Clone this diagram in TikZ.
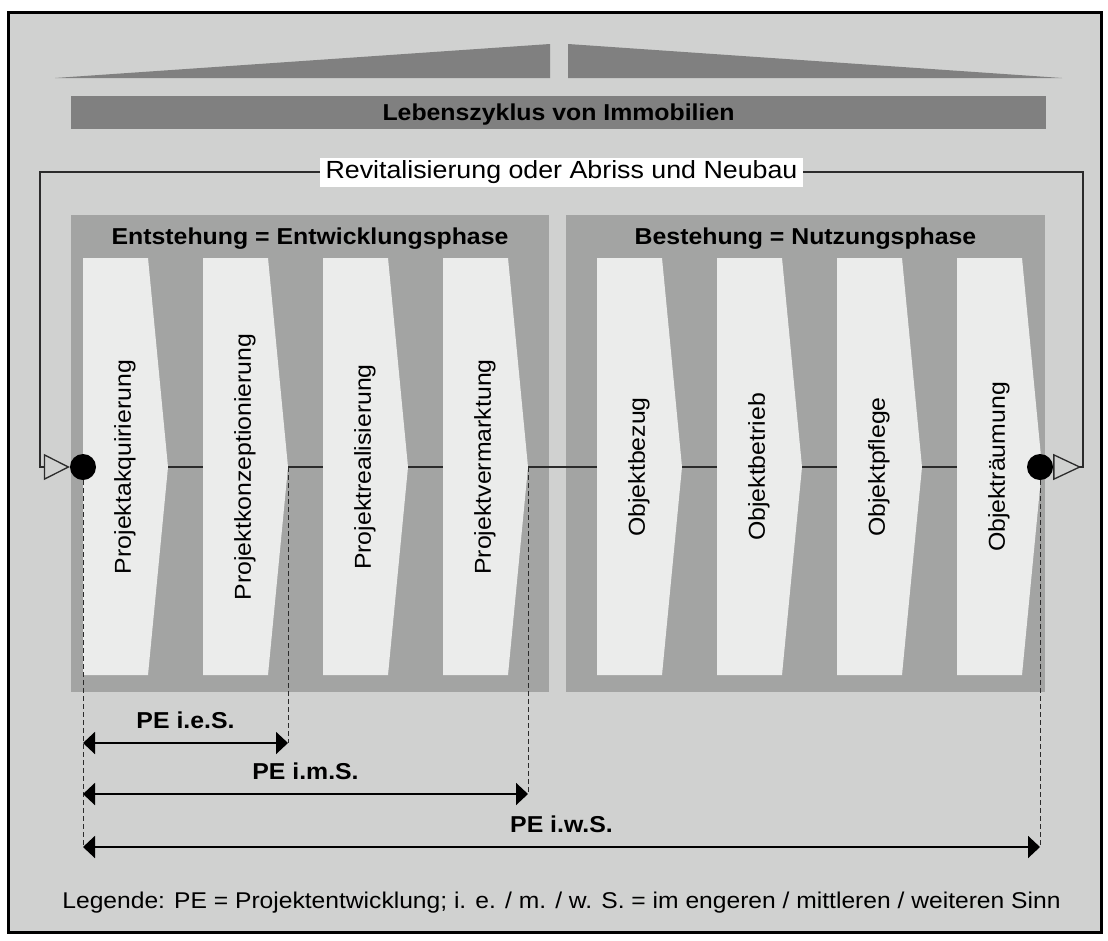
\documentclass[tikz,border=0pt]{standalone}
\usepackage{fontspec}
\setmainfont{Liberation Sans}[FakeStretch=1.08]
\usepackage{xcolor}
\definecolor{cBack}{HTML}{D0D1D0}
\definecolor{cRoof}{HTML}{808080}
\definecolor{cPhase}{HTML}{A3A4A3}
\definecolor{cChev}{HTML}{EBECEB}
\definecolor{cLine}{HTML}{2B2B2B}
\usepackage{tikz}
\usetikzlibrary{arrows.meta,calc}
\tikzset{
  txt-norm/.style={font=\fontsize{23}{27}\selectfont},
  txt-bold/.style={font=\fontsize{23}{27}\selectfont\bfseries},
  node-dot/.style={circle,fill=black,inner sep=0pt,minimum size=26pt},
  node-label/.style={txt-norm,rotate=90,inner sep=0pt},
  node-rev/.style={font=\fontsize{24.8}{28}\selectfont,fill=white,inner xsep=6pt,
    inner ysep=3.5pt,text height=17pt,text depth=5pt},
  arrow-loop/.style={{Triangle[open,reversed,length=28pt,width=26pt]}-{Triangle[open,length=26pt,width=26pt]},
    line width=1.3pt,draw=cLine},
  arrow-dim/.style={{Triangle[length=12pt,width=22pt]}-{Triangle[length=12pt,width=22pt]},
    line width=2pt,draw=black},
  line-dash/.style={dash pattern=on 5pt off 3pt,line width=1pt,draw=cLine},
}

\begin{document}
\begin{tikzpicture}[x=1pt,y=-1pt]
  \useasboundingbox (0,0) rectangle (1108,940);
  \draw[line width=3pt,fill=cBack] (8.5,12.5) rectangle (1101,932);
  % Dach und Titel
  \fill[cRoof] (55,78) -- (550,44) -- (550,78) -- cycle;
  \fill[cRoof] (568,44) -- (1062,78) -- (568,78) -- cycle;
  \fill[cRoof] (71,96) rectangle (1046,129);
  \node[txt-bold,anchor=base] (title) at (558.5,120.5) {Lebenszyklus von Immobilien};
  % Phasen
  \fill[cPhase] (71,215) rectangle (549,692);
  \fill[cPhase] (566,215) rectangle (1045,692);
  \node[txt-bold,anchor=base] (ent) at (310,244) {Entstehung = Entwicklungsphase};
  \node[txt-bold,anchor=base] (best) at (805.5,244) {Bestehung = Nutzungsphase};
  % Achse und Pfeilformen
  \coordinate (axL) at (83,467);
  \coordinate (axR) at (1040,467);
  \draw[line width=1.2pt,draw=cLine] (axL) -- (axR);
  \foreach \x/\name [count=\i] in {83/Projektakquirierung,203/Projektkonzeptionierung,
      323/Projektrealisierung,443/Projektvermarktung,597/Objektbezug,
      717/Objektbetrieb,837/Objektpflege,957/Objekträumung}{
    \fill[cChev] (\x,258) -- (\x+65,258) -- (\x+85,467) -- (\x+65,675) -- (\x,675) -- cycle;
    \coordinate (tip\i) at (\x+85,467);
    \node[node-label] (ph\i) at (\x+42,467) {\name};
  }
  \node[node-dot] (pstart) at (axL) {};
  \node[node-dot] (pend) at (axR) {};
  % Kreislauf
  \coordinate (loopR) at (1083,172);
  \coordinate (loopL) at (40,172);
  \draw[arrow-loop] (pend) -- (pend -| loopR) -- (loopR)
    -- node[node-rev] (rev) {Revitalisierung oder Abriss und Neubau} (loopL)
    -- (loopL |- pstart) -- (pstart);
  % Abgrenzung PE
  \coordinate (ies-l) at (83,743);
  \coordinate (ies-r) at (288,743);
  \coordinate (ims-l) at (83,794);
  \coordinate (ims-r) at (528,794);
  \coordinate (iws-l) at (83,847);
  \coordinate (iws-r) at (1040,847);
  \draw[line-dash] (pstart) -- (iws-l);
  \draw[line-dash] (tip2) -- (ies-r);
  \draw[line-dash] (tip4) -- (ims-r);
  \draw[line-dash] (pend) -- (iws-r);
  \draw[arrow-dim] (ies-l) -- node[txt-bold,above=13pt,inner sep=0pt] (ies) {PE i.e.S.} (ies-r);
  \draw[arrow-dim] (ims-l) -- node[txt-bold,above=13pt,inner sep=0pt] (ims) {PE i.m.S.} (ims-r);
  \draw[arrow-dim] (iws-l) -- node[txt-bold,above=13pt,inner sep=0pt] (iws) {PE i.w.S.} (iws-r);
  \node[font=\fontsize{22.8}{27}\selectfont,anchor=base] (legend) at (561.5,908)
    {Legende: PE = Projektentwicklung; i. e. / m. / w. S. = im engeren / mittleren / weiteren Sinn};
\end{tikzpicture}
\end{document}
